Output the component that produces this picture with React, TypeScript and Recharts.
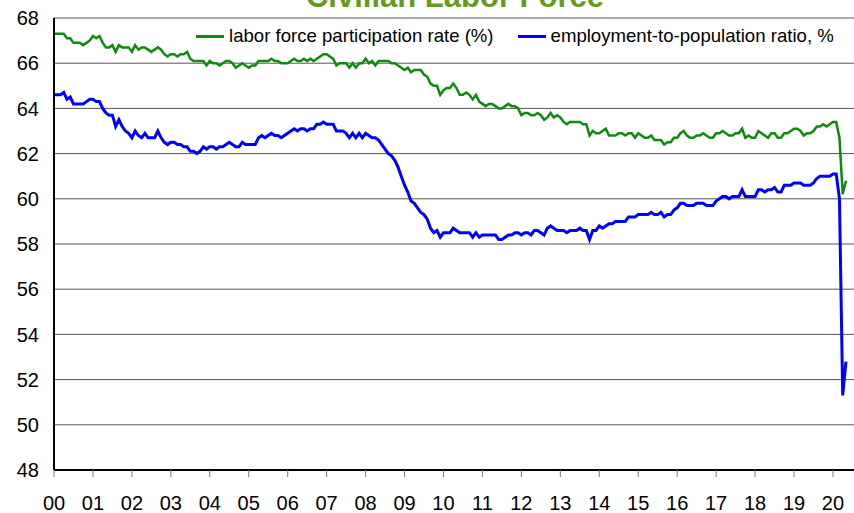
import React from "react";
import { LineChart, Line, XAxis, YAxis, CartesianGrid } from "recharts";

// Monthly, seasonally adjusted, Jan 2000 - May 2020
const participationRate = [
  // 2000
  67.3, 67.3, 67.3, 67.3, 67.1, 67.1, 66.9, 66.9, 66.9, 66.8, 66.9, 67.0,
  // 2001
  67.2, 67.1, 67.2, 66.9, 66.7, 66.7, 66.8, 66.5, 66.8, 66.7, 66.7, 66.7,
  // 2002
  66.5, 66.8, 66.6, 66.7, 66.7, 66.6, 66.5, 66.6, 66.7, 66.6, 66.4, 66.3,
  // 2003
  66.4, 66.4, 66.3, 66.4, 66.4, 66.5, 66.2, 66.1, 66.1, 66.1, 66.1, 65.9,
  // 2004
  66.1, 66.0, 66.0, 65.9, 66.0, 66.1, 66.1, 66.0, 65.8, 65.9, 66.0, 65.9,
  // 2005
  65.8, 65.9, 65.9, 66.1, 66.1, 66.1, 66.1, 66.2, 66.1, 66.1, 66.0, 66.0,
  // 2006
  66.0, 66.1, 66.2, 66.1, 66.1, 66.2, 66.1, 66.2, 66.1, 66.2, 66.3, 66.4,
  // 2007
  66.4, 66.3, 66.2, 65.9, 66.0, 66.0, 66.0, 65.8, 66.0, 65.8, 66.0, 66.0,
  // 2008
  66.2, 66.0, 66.1, 65.9, 66.1, 66.1, 66.1, 66.1, 66.0, 66.0, 65.9, 65.8,
  // 2009
  65.7, 65.8, 65.6, 65.7, 65.7, 65.7, 65.5, 65.4, 65.1, 65.0, 65.0, 64.6,
  // 2010
  64.8, 64.9, 64.9, 65.1, 64.9, 64.6, 64.6, 64.7, 64.6, 64.4, 64.6, 64.3,
  // 2011
  64.2, 64.1, 64.2, 64.2, 64.1, 64.0, 64.0, 64.1, 64.2, 64.1, 64.1, 64.0,
  // 2012
  63.7, 63.8, 63.8, 63.7, 63.7, 63.8, 63.7, 63.5, 63.6, 63.8, 63.6, 63.7,
  // 2013
  63.6, 63.4, 63.3, 63.4, 63.4, 63.4, 63.4, 63.3, 63.3, 62.8, 63.0, 62.9,
  // 2014
  62.9, 63.0, 63.1, 62.8, 62.8, 62.8, 62.9, 62.9, 62.8, 62.9, 62.9, 62.7,
  // 2015
  62.9, 62.8, 62.7, 62.7, 62.8, 62.6, 62.6, 62.6, 62.4, 62.5, 62.5, 62.7,
  // 2016
  62.7, 62.9, 63.0, 62.8, 62.7, 62.7, 62.8, 62.8, 62.9, 62.8, 62.7, 62.7,
  // 2017
  62.9, 62.9, 63.0, 62.9, 62.8, 62.8, 62.9, 62.9, 63.1, 62.7, 62.8, 62.7,
  // 2018
  62.7, 63.0, 62.9, 62.8, 62.7, 62.9, 62.9, 62.7, 62.7, 62.9, 62.9, 63.0,
  // 2019
  63.1, 63.1, 63.0, 62.8, 62.9, 62.9, 63.0, 63.2, 63.2, 63.3, 63.2, 63.3,
  // 2020
  63.4, 63.4, 62.7, 60.2, 60.8,
];

const employmentRatio = [
  // 2000
  64.6, 64.6, 64.6, 64.7, 64.4, 64.5, 64.2, 64.2, 64.2, 64.2, 64.3, 64.4,
  // 2001
  64.4, 64.3, 64.3, 64.0, 63.8, 63.7, 63.7, 63.2, 63.5, 63.2, 63.0, 62.9,
  // 2002
  62.7, 63.0, 62.8, 62.7, 62.9, 62.7, 62.7, 62.7, 63.0, 62.7, 62.5, 62.4,
  // 2003
  62.5, 62.5, 62.4, 62.4, 62.3, 62.3, 62.1, 62.1, 62.0, 62.1, 62.3, 62.2,
  // 2004
  62.3, 62.3, 62.2, 62.3, 62.3, 62.4, 62.5, 62.4, 62.3, 62.3, 62.5, 62.4,
  // 2005
  62.4, 62.4, 62.4, 62.7, 62.8, 62.7, 62.8, 62.9, 62.8, 62.8, 62.7, 62.8,
  // 2006
  62.9, 63.0, 63.1, 63.0, 63.1, 63.1, 63.0, 63.1, 63.1, 63.3, 63.3, 63.4,
  // 2007
  63.3, 63.3, 63.3, 63.0, 63.0, 63.0, 62.9, 62.7, 62.9, 62.7, 62.9, 62.7,
  // 2008
  62.9, 62.8, 62.7, 62.7, 62.6, 62.4, 62.2, 62.0, 61.9, 61.7, 61.4, 61.0,
  // 2009
  60.6, 60.3, 59.9, 59.8, 59.6, 59.4, 59.3, 59.1, 58.7, 58.5, 58.6, 58.3,
  // 2010
  58.5, 58.5, 58.5, 58.7, 58.6, 58.5, 58.5, 58.5, 58.5, 58.3, 58.5, 58.3,
  // 2011
  58.4, 58.4, 58.4, 58.4, 58.4, 58.2, 58.2, 58.3, 58.4, 58.4, 58.5, 58.5,
  // 2012
  58.4, 58.5, 58.5, 58.4, 58.6, 58.6, 58.5, 58.4, 58.7, 58.8, 58.7, 58.6,
  // 2013
  58.6, 58.6, 58.5, 58.6, 58.6, 58.6, 58.7, 58.6, 58.6, 58.2, 58.6, 58.6,
  // 2014
  58.8, 58.7, 58.8, 58.9, 58.9, 59.0, 59.0, 59.0, 59.0, 59.2, 59.2, 59.2,
  // 2015
  59.3, 59.3, 59.3, 59.3, 59.4, 59.3, 59.3, 59.4, 59.2, 59.3, 59.3, 59.5,
  // 2016
  59.6, 59.8, 59.8, 59.7, 59.7, 59.7, 59.8, 59.8, 59.8, 59.7, 59.7, 59.7,
  // 2017
  59.9, 60.0, 60.1, 60.1, 60.0, 60.1, 60.1, 60.1, 60.4, 60.1, 60.1, 60.1,
  // 2018
  60.1, 60.4, 60.4, 60.3, 60.4, 60.4, 60.5, 60.3, 60.3, 60.6, 60.6, 60.6,
  // 2019
  60.7, 60.7, 60.7, 60.6, 60.6, 60.6, 60.7, 60.9, 61.0, 61.0, 61.0, 61.0,
  // 2020
  61.1, 61.1, 60.0, 51.3, 52.8,
];

const yearTicks = [0, 1, 2, 3, 4, 5, 6, 7, 8, 9, 10, 11, 12, 13, 14, 15, 16, 17, 18, 19, 20];
const valueTicks = [48, 50, 52, 54, 56, 58, 60, 62, 64, 66, 68];

const GREEN = "#0f8a0f";
const BLUE = "#0000ff";
const FONT = "'Liberation Sans', Arial, sans-serif";

// x = years since Jan 2000
const data = participationRate.map((v, i) => ({
  t: i / 12,
  lfpr: v,
  epop: employmentRatio[i],
}));

const legendItems = [
  { label: "labor force participation rate (%)", color: GREEN },
  { label: "employment-to-population ratio, %", color: BLUE },
];

function ChartLegend() {
  return (
    <div
      style={{
        position: "absolute",
        left: 196,
        top: 25,
        display: "flex",
        alignItems: "center",
        fontFamily: FONT,
        fontSize: 18.6,
        color: "#000",
        background: "#fff",
        lineHeight: "22px",
        whiteSpace: "nowrap",
      }}
    >
      {legendItems.map((item, i) => (
        <div key={item.label} style={{ display: "flex", alignItems: "center", marginLeft: i === 0 ? 0 : 24 }}>
          <span style={{ display: "inline-block", width: 28, height: 3, background: item.color, marginRight: 5 }} />
          <span>{item.label}</span>
        </div>
      ))}
    </div>
  );
}

export default function App() {
  return (
    <div style={{ position: "absolute", left: 0, top: 0, width: 854, height: 513, background: "#fff", overflow: "hidden" }}>
      <LineChart width={854} height={513} data={data} margin={{ top: 18, right: 0, left: 0, bottom: 0 }}>
        <CartesianGrid horizontal={true} vertical={false} stroke="#555" strokeWidth={1} />
        <XAxis
          dataKey="t"
          type="number"
          domain={[0, 20.54]}
          ticks={yearTicks}
          tickFormatter={(v: number) => String(v).padStart(2, "0")}
          height={43}
          axisLine={{ stroke: "#000", strokeWidth: 2 }}
          tickLine={{ stroke: "#777" }}
          tickSize={7}
          tickMargin={19}
          tick={{ fill: "#000", fontSize: 20, fontFamily: FONT }}
          allowDataOverflow
        />
        <YAxis
          type="number"
          domain={[48, 68]}
          ticks={valueTicks}
          width={54}
          axisLine={{ stroke: "#000", strokeWidth: 2 }}
          tickLine={false}
          tickSize={6}
          tickMargin={9}
          tick={{ fill: "#000", fontSize: 20, fontFamily: FONT }}
        />
        <Line type="linear" dataKey="lfpr" stroke={GREEN} strokeWidth={2.5} dot={false} isAnimationActive={false} />
        <Line type="linear" dataKey="epop" stroke={BLUE} strokeWidth={3} dot={false} isAnimationActive={false} />
      </LineChart>
      <ChartLegend />
      <svg width={854} height={30} style={{ position: "absolute", left: 0, top: 0, pointerEvents: "none" }}>
        <text x={455} y={7} textAnchor="middle" fontFamily={FONT} fontSize={31} fontWeight="bold" fill="#669a1e">
          Civilian Labor Force
        </text>
      </svg>
    </div>
  );
}
